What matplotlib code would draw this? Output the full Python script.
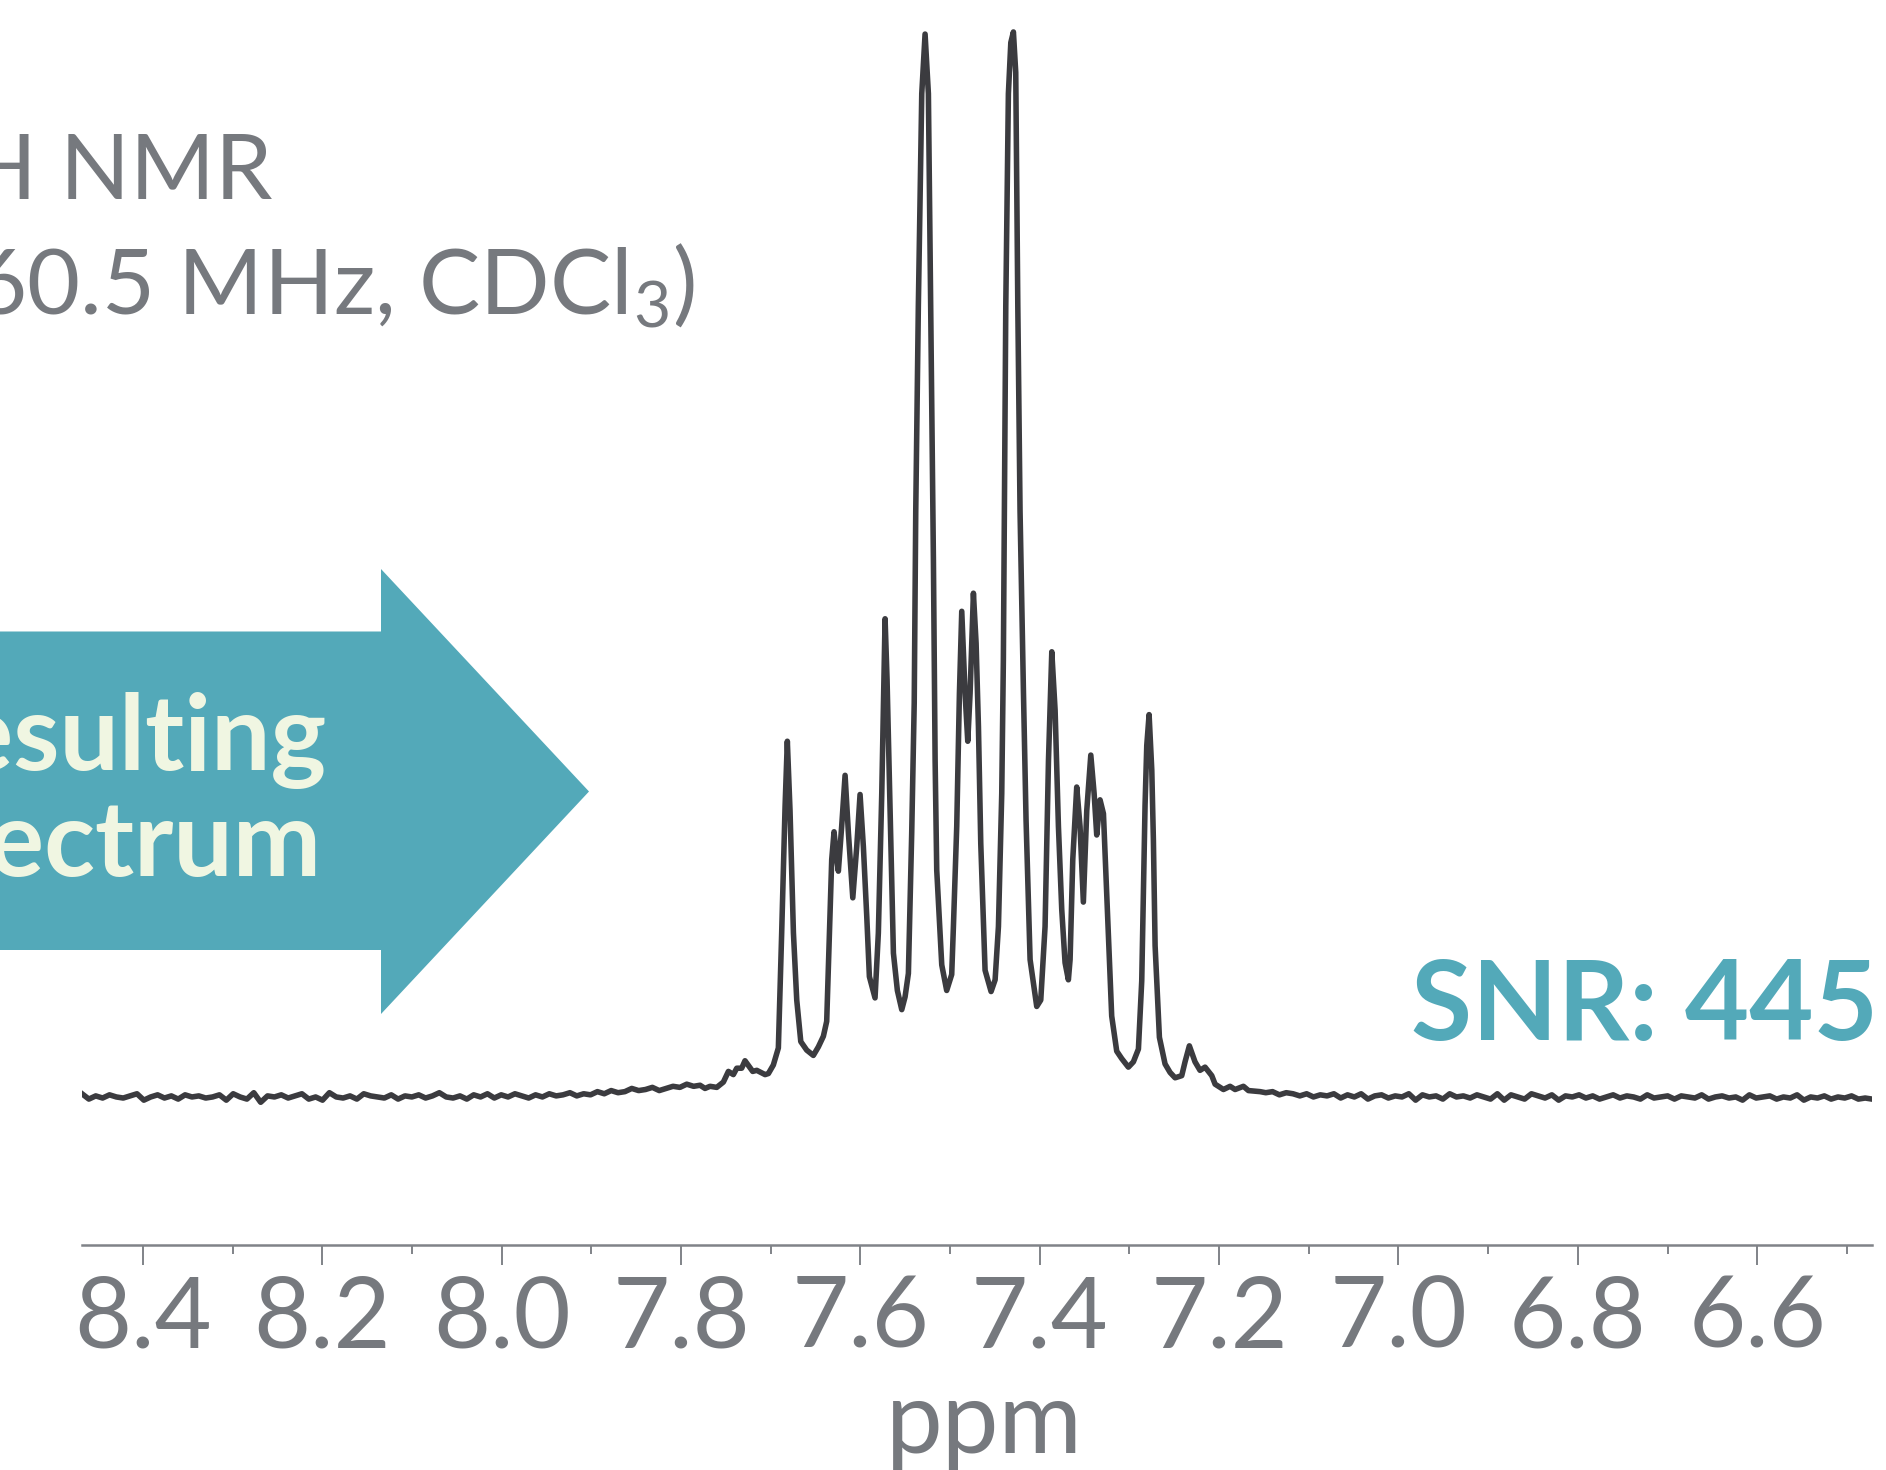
import numpy as np
import matplotlib
matplotlib.use("Agg")
import matplotlib.pyplot as plt
import matplotlib.patches as patch

plt.rcParams['font.family'] = ['Lato', 'DejaVu Sans']
plt.rcParams['mathtext.fontset'] = 'custom'
plt.rcParams['mathtext.rm'] = 'Lato'
plt.rcParams['mathtext.it'] = 'Lato'

GRAY = '#76797e'
TEAL = '#53a9b9'
CREAM = '#f0f6e2'
INK = '#3b3b3f'

# ---- data ----
# baseline noise left of the multiplet, on an even ppm grid
left_ppm = np.linspace(8.468, 7.786, 90)
left_noise = [
    0.3, -0.2, 0.1, -0.1, 0.2, 0.0, -0.1, 0.1, 0.3, -0.3,
    0.0, 0.2, -0.1, 0.1, -0.2, 0.2, 0.0, 0.1, -0.1, 0.0,
    0.2, -0.3, 0.3, 0.0, -0.2, 0.4, -0.5, 0.1, 0.0, 0.2,
    -0.1, 0.1, 0.3, -0.2, 0.0, -0.3, 0.4, 0.0, -0.1, 0.1,
    -0.2, 0.3, 0.1, 0.0, -0.1, 0.2, -0.2, 0.1, 0.0, 0.2,
    -0.1, 0.1, 0.4, 0.0, -0.1, 0.1, -0.2, 0.2, 0.0, 0.3,
    -0.1, 0.2, 0.0, 0.3, 0.1, -0.1, 0.2, 0.0, 0.3, 0.1,
    0.2, 0.4, 0.1, 0.3, 0.2, 0.5, 0.3, 0.6, 0.4, 0.5,
    0.8, 0.6, 0.7, 0.9, 0.6, 0.8, 1.0, 0.9, 1.2, 1.0,
]

# aromatic multiplet region
peak_ppm = [
    7.7788, 7.7733, 7.7677, 7.7602, 7.7528, 7.7472, 7.7417, 7.7379, 7.7324, 7.7287,
    7.7201, 7.7156, 7.7063, 7.7026, 7.6971, 7.6915, 7.6878, 7.6840, 7.6815, 7.6785,
    7.6747, 7.6710, 7.6665, 7.6599, 7.6525, 7.6469, 7.6413, 7.6376, 7.6346, 7.6320,
    7.6294, 7.6264, 7.6246, 7.6209, 7.6171, 7.6134, 7.6085, 7.6041, 7.6004, 7.5967,
    7.5929, 7.5900, 7.5837, 7.5800, 7.5762, 7.5725, 7.5703, 7.5669, 7.5632, 7.5588,
    7.5539, 7.5502, 7.5465, 7.5428, 7.5400, 7.5383, 7.5354, 7.5316, 7.5279, 7.5242,
    7.5216, 7.5186, 7.5167, 7.5149, 7.5093, 7.5038, 7.4982, 7.4963, 7.4926, 7.4896,
    7.4870, 7.4833, 7.4803, 7.4777, 7.4740, 7.4710, 7.4684, 7.4658, 7.4610, 7.4543,
    7.4498, 7.4461, 7.4424, 7.4406, 7.4379, 7.4350, 7.4323, 7.4294, 7.4268, 7.4245,
    7.4220, 7.4182, 7.4153, 7.4108, 7.4034, 7.3989, 7.3941, 7.3903, 7.3866, 7.3829,
    7.3792, 7.3755, 7.3718, 7.3681, 7.3662, 7.3632, 7.3588, 7.3551, 7.3514, 7.3476,
    7.3431, 7.3394, 7.3365, 7.3328, 7.3290, 7.3246, 7.3198, 7.3142, 7.3086, 7.3012,
    7.2956, 7.2900, 7.2863, 7.2826, 7.2807, 7.2781, 7.2751, 7.2733, 7.2714, 7.2666,
    7.2603, 7.2547, 7.2491, 7.2417, 7.2380, 7.2332, 7.2269, 7.2213, 7.2157, 7.2082,
    7.2045, 7.1952, 7.1878, 7.1822, 7.1729, 7.1673, 7.1543,
]
peak_int = [
    1.1, 0.8, 1.0, 0.9, 1.4, 2.4, 2.1, 2.7, 2.7, 3.4,
    2.4, 2.5, 2.1, 2.2, 3.0, 4.6, 15.4, 27.3, 33.4, 26.9,
    15.4, 9.1, 5.2, 4.4, 3.9, 4.7, 5.7, 7.1, 15.4, 22.3,
    24.9, 22.3, 21.2, 25.4, 30.2, 24.8, 18.7, 23.5, 28.4, 23.5,
    16.9, 11.3, 9.3, 15.4, 28.5, 44.9, 39.2, 26.9, 13.5, 10.0,
    8.2, 9.4, 11.6, 24.8, 37.0, 55.0, 74.3, 94.2, 99.8, 94.2,
    74.3, 50.4, 31.6, 21.3, 12.4, 10.0, 11.5, 16.0, 25.4, 37.9,
    45.6, 37.9, 33.4, 37.9, 47.3, 42.6, 34.8, 23.8, 11.9, 9.9,
    11.0, 16.0, 28.5, 41.0, 74.3, 94.2, 99.0, 100.0, 96.2, 74.3,
    55.0, 38.0, 26.0, 12.9, 8.5, 9.1, 16.0, 31.6, 41.8, 36.3,
    25.4, 17.6, 12.6, 11.0, 12.9, 22.3, 29.1, 25.4, 18.3, 26.9,
    32.1, 28.5, 24.6, 27.9, 26.6, 17.5, 7.6, 4.3, 3.6, 2.8,
    3.3, 4.5, 10.9, 27.4, 33.0, 35.9, 30.7, 24.1, 14.2, 5.6,
    3.1, 2.3, 1.8, 2.0, 3.3, 4.8, 3.3, 2.5, 2.8, 2.0,
    1.2, 0.7, 1.0, 0.7, 1.0, 0.6, 0.5,
]

# baseline noise right of the multiplet
right_ppm = np.linspace(7.148, 6.472, 90)
right_noise = [
    0.4, 0.5, 0.2, 0.4, 0.3, 0.1, 0.3, 0.0, 0.2, 0.1,
    0.3, -0.1, 0.2, 0.0, 0.3, -0.2, 0.1, 0.2, -0.1, 0.1,
    0.0, 0.3, -0.3, 0.2, 0.0, 0.1, -0.2, 0.3, 0.0, 0.1,
    -0.1, 0.2, 0.0, -0.2, 0.3, -0.3, 0.2, 0.0, -0.2, 0.3,
    0.1, -0.1, 0.2, -0.3, 0.1, 0.0, 0.2, -0.1, 0.1, -0.2,
    0.0, 0.2, -0.1, 0.1, 0.0, -0.2, 0.2, -0.1, 0.0, 0.1,
    -0.2, 0.1, 0.0, -0.1, 0.2, -0.2, 0.0, 0.1, -0.1, 0.0,
    -0.3, 0.2, -0.1, 0.0, 0.1, -0.2, 0.0, -0.1, 0.2, -0.3,
    0.0, -0.1, 0.1, -0.2, 0.0, -0.1, 0.1, -0.2, -0.1, -0.2,
]

major_ticks = [8.4, 8.2, 8.0, 7.8, 7.6, 7.4, 7.2, 7.0, 6.8, 6.6]
tick_labels = ['8.4', '8.2', '8.0', '7.8', '7.6', '7.4', '7.2', '7.0', '6.8', '6.6']
minor_ticks = [8.3, 8.1, 7.9, 7.7, 7.5, 7.3, 7.1, 6.9, 6.7, 6.5]

title_lines = ['$^1$H NMR', '(60.5 MHz, CDCl$_3$)']
arrow_lines = ['Resulting', 'Spectrum']
snr_text = 'SNR: 445'

ppm = np.concatenate([left_ppm, peak_ppm, right_ppm])
intensity = np.concatenate([left_noise, peak_int, right_noise])

# ---- figure ----
W, H = 1886, 1470
fig = plt.figure(figsize=(W / 100, H / 100), dpi=100)

def fx(px):
    return px / W

def fy(py):
    return 1 - py / H

ax = fig.add_axes([fx(82), fy(1245), fx(1872) - fx(82), 1245 / H])
ax.plot(ppm, intensity, color=INK, lw=4.0, solid_joinstyle='round')
ax.set_xlim(8.468, 6.472)
ax.set_ylim(-13.9, 103.0)

for s in ['top', 'right', 'left']:
    ax.spines[s].set_visible(False)
ax.spines['bottom'].set_color('#808388')
ax.spines['bottom'].set_linewidth(1.8)
ax.set_yticks([])
ax.set_xticks(major_ticks)
ax.set_xticklabels(tick_labels)
ax.set_xticks(minor_ticks, minor=True)
ax.tick_params(axis='x', which='major', length=14.4, width=1.4, color='#808388',
               labelsize=71, labelcolor=GRAY, pad=7)
ax.tick_params(axis='x', which='minor', length=6.5, width=1.4, color='#808388')
ax.set_xlabel('ppm', fontsize=73, color=GRAY)
ax.xaxis.label.set_va('baseline')
ax.xaxis.set_label_coords((984 - 82) / 1790, (1245 - 1453) / 1245)

# title, cut at the left edge
fig.text(fx(274), fy(200), title_lines[0], ha='right', va='baseline',
         fontsize=66, color=GRAY)
fig.text(fx(695), fy(315), title_lines[1], ha='right', va='baseline',
         fontsize=66, color=GRAY)

# big arrow
arrow_pts = [(-10, 631.5), (381, 631.5), (381, 569), (589, 791.5),
             (381, 1014), (381, 950), (-10, 950)]
arrow = patch.Polygon([(fx(x), fy(y)) for x, y in arrow_pts], closed=True,
                      transform=fig.transFigure, facecolor=TEAL, edgecolor='none')
fig.patches.append(arrow)
fig.text(fx(327), fy(770), arrow_lines[0], ha='right', va='baseline',
         fontsize=76, fontweight='bold', color=CREAM)
fig.text(fx(322), fy(876), arrow_lines[1], ha='right', va='baseline',
         fontsize=76, fontweight='bold', color=CREAM)

fig.text(fx(1878), fy(1040), snr_text, ha='right', va='baseline',
         fontsize=80, fontweight='bold', color=TEAL)

fig.savefig('out.png', dpi=100)
